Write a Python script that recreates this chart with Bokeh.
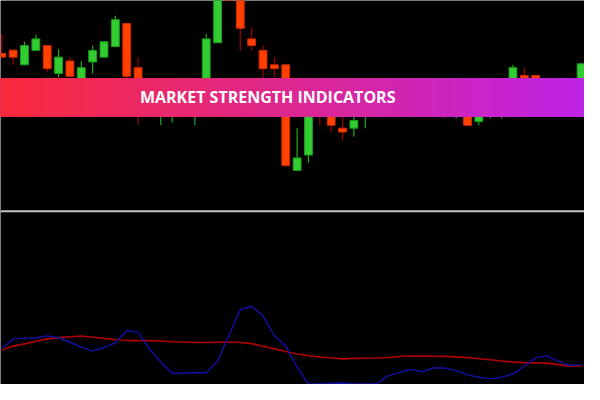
from bokeh.plotting import figure
from bokeh.models import Range1d, Span, ColumnDataSource
from bokeh.embed import file_html
from bokeh.resources import INLINE
from bokeh.core.properties import value

# ---- data (price units; top panel) ----
bars = list(range(52))
opens = [345, 348.3, 333, 348, 353, 324, 337, 315, 336, 341, 352, 376, 330, 290, 290, 292,
         300, 295, 300, 356, 430, 410, 360, 348, 333, 333, 223, 239, 300, 285, 267, 267,
         285, 295, 300, 295, 305, 298, 300, 290, 285, 285, 274, 285, 290, 300, 322, 322,
         310, 305, 312, 300]
highs = [365, 348.3, 357, 364, 353, 349, 341, 337, 353, 357, 384, 376, 341, 310, 305, 310,
         312, 312, 365, 412, 440, 415, 372, 353, 341, 333, 267, 292, 305, 290, 285, 282,
         305, 310, 305, 310, 310, 310, 305, 300, 295, 290, 290, 300, 305, 333, 330, 322,
         315, 318, 318, 334]
lows = [341, 333, 333, 348, 325, 320, 321, 312, 324, 341, 352, 318, 270, 285, 270, 273,
        295, 270, 295, 356, 405, 348, 348, 320, 320, 228, 223, 231, 270, 263, 255, 258,
        267, 290, 290, 290, 292, 290, 285, 277, 277, 270, 270, 277, 277, 295, 315, 315,
        300, 300, 305, 295]
closes = [341, 341, 353, 360, 329, 341, 321, 330, 348, 357, 380, 321, 300, 305, 300, 305,
          310, 310, 360, 410, 415, 371, 353, 329, 329, 228, 236, 290, 290, 270, 263, 275,
          300, 300, 295, 305, 300, 305, 292, 285, 290, 270, 285, 290, 295, 330, 319, 319,
          305, 312, 315, 334]

# ---- indicator (bottom panel) ----
strength = [37.5, 47.3, 48.3, 48.5, 50.7, 48.7, 44, 39, 34.7, 38.5, 43.5, 56, 54.3, 37, 23.5,
            11.7, 11.7, 12.5, 12, 24.5, 51, 78, 81.5, 71.5, 50.5, 40, 18, 0.5, 0.5, 1, 1.5,
            0.7, 0.7, 0.7, 9, 12.3, 15.7, 13.3, 17.3, 17.2, 14.5, 10, 7.5, 5.8, 7.5, 11, 19,
            28, 29.8, 24, 19.8, 20.7]
signal = [36, 40, 42.3, 45, 47.5, 48.8, 49.7, 50.5, 49.2, 48, 46.8, 45.9, 45.7, 45.7, 45.3,
          44.6, 44.2, 43.9, 43.7, 44, 44.2, 43.7, 42.6, 39.8, 37.1, 34.4, 31.8, 29.9, 28.6,
          27.6, 26.7, 27.2, 27.4, 27.6, 28.1, 29.2, 29.7, 29.6, 29.4, 29.3, 28.8, 28, 26.9,
          25.7, 24.5, 23.6, 22.8, 22.5, 22.3, 20.7, 19, 19.2]

title_text = "MARKET STRENGTH INDICATORS"

# ---- figure ----
x0, x1 = -0.1114, 51.30
p = figure(width=584, height=384, output_backend="svg", toolbar_location=None,
           x_range=Range1d(x0, x1), y_range=Range1d(0, 400),
           background_fill_color="black", border_fill_color="black",
           min_border=0, outline_line_color=None)
p.axis.visible = False
p.grid.visible = False

up = [c >= o for o, c in zip(opens, closes)]
src = ColumnDataSource(dict(
    x=bars, o=opens, h=highs, l=lows, c=closes,
    top=[max(o, c) for o, c in zip(opens, closes)],
    bot=[min(o, c) for o, c in zip(opens, closes)],
    wick=["#22aa22" if u else "#a00000" for u in up],
    fill=["#33cc33" if u else "#ff4000" for u in up],
    edge=["#17a017" if u else "#d02800" for u in up],
))
p.segment(x0="x", y0="l", x1="x", y1="h", color="wick", line_width=1.2, source=src)
p.vbar(x="x", bottom="bot", top="top", width=0.69, fill_color="fill",
       line_color="edge", line_width=1, source=src)

# indicator lines
p.line(bars, signal, line_color="#b00000", line_width=1.6)
p.line(bars, strength, line_color="#1010a8", line_width=1.4)

# separator
p.add_layout(Span(location=180.5, dimension="width", line_color="#c4c4c4", line_width=2))

# gradient banner: opaque base, then overlapping strips (no seams)
n = 120
c0 = (250, 42, 58)
c1 = (191, 36, 232)
span_w = (x1 - x0) + 1.0
w = span_w / n
p.quad(left=[x0 - 0.5], right=[x1 + 0.5], bottom=279, top=319,
       fill_color="#dc2890", line_color=None)
lefts, rights, cols = [], [], []
for k in range(n):
    t = k / (n - 1)
    L = x0 - 0.5 + w * k
    lefts.append(L)
    rights.append(L + 2.5 * w)
    r = int(c0[0] + (c1[0] - c0[0]) * t)
    g = int(c0[1] + (c1[1] - c0[1]) * t)
    b = int(c0[2] + (c1[2] - c0[2]) * t)
    cols.append("#%02x%02x%02x" % (r, g, b))
p.quad(left=lefts, right=rights, bottom=279, top=319, fill_color=cols, line_color=None)

p.text(x=[x0 + (x1 - x0) * 274.5 / 600], y=[300], text=[title_text],
       text_color="white", text_font=value("Open Sans"), text_font_style="bold",
       text_font_size="16px", text_align="center", text_baseline="middle")

open("out.html", "w").write(file_html(p, INLINE))
